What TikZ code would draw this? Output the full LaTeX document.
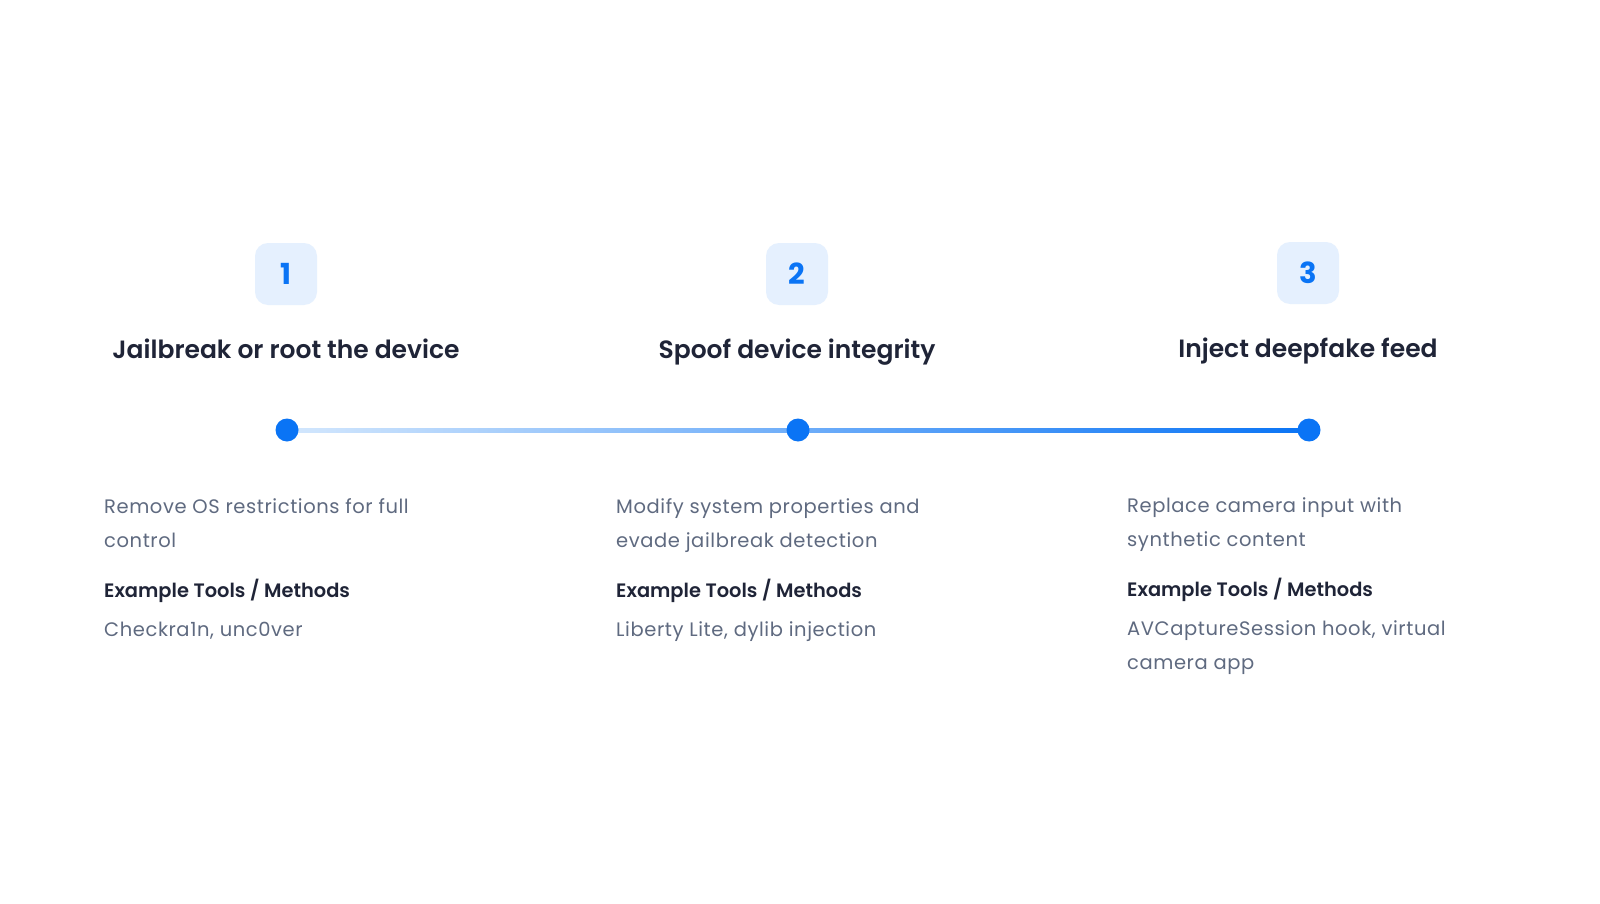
\documentclass[tikz,border=0pt]{standalone}
\usepackage{fontspec}
\setmainfont{Poppins}[BoldFont={Poppins SemiBold}]
\newfontfamily\descfont{Poppins}[LetterSpace=3]
\newfontfamily\badgefont{Poppins Bold}
\definecolor{ink}{HTML}{1F2437}
\definecolor{muted}{HTML}{5F6A80}
\definecolor{accent}{HTML}{0A74F5}
\definecolor{badgebg}{HTML}{E5F0FE}
\definecolor{linestart}{HTML}{D3E7FD}
\tikzset{
  badge/.style={fill=badgebg, rounded corners=13pt, minimum width=62pt, minimum height=62pt, inner sep=0pt, text=accent, font=\fontsize{29}{29}\badgefont},
  title/.style={text=ink, inner sep=0pt, anchor=base, font=\fontsize{25}{30}\selectfont\bfseries},
  dot/.style={circle, fill=accent, minimum size=23pt, inner sep=0pt},
  desc/.style={text=muted, inner sep=0pt, anchor=base west, align=left, font=\fontsize{19.5}{33.8}\descfont},
  head/.style={text=ink, inner sep=0pt, anchor=base west, font=\fontsize{19.4}{24}\selectfont\bfseries},
}
\begin{document}
\begin{tikzpicture}[x=1pt,y=-1pt]
\useasboundingbox[fill=white] (0,0) rectangle (1600,904);
% badges
\node[badge] (b1) at (286,274) {1};
\node[badge] (b2) at (797,274) {2};
\node[badge] (b3) at (1308,273) {3};
% titles
\node[title] (t1) at (286,358) {Jailbreak or root the device};
\node[title] (t2) at (797,358) {Spoof device integrity};
\node[title] (t3) at (1308,357) {Inject deepfake feed};
% timeline
\coordinate (d1) at (287,430);
\coordinate (d2) at (798,430);
\coordinate (d3) at (1309,430);
\shade[left color=linestart, right color=accent] ([yshift=2]d1) rectangle ([yshift=-2]d3);
\node[dot] (n1) at (d1) {};
\node[dot] (n2) at (d2) {};
\node[dot] (n3) at (d3) {};
% column 1 (multi-line nodes anchored at last line's baseline)
\node[desc] (p1) at (104,547) {Remove OS restrictions for full\\control};
\node[head] (h1) at (104,597) {Example Tools / Methods};
\node[desc] (e1) at (104,636) {Checkra1n, unc0ver};
% column 2
\node[desc] (p2) at (616,547) {Modify system properties and\\evade jailbreak detection};
\node[head] (h2) at (616,597) {Example Tools / Methods};
\node[desc] (e2) at (616,636) {Liberty Lite, dylib injection};
% column 3
\node[desc] (p3) at (1127,546) {Replace camera input with\\synthetic content};
\node[head] (h3) at (1127,596) {Example Tools / Methods};
\node[desc] (e3) at (1127,669) {AVCaptureSession hook, virtual\\camera app};
\end{tikzpicture}
\end{document}
